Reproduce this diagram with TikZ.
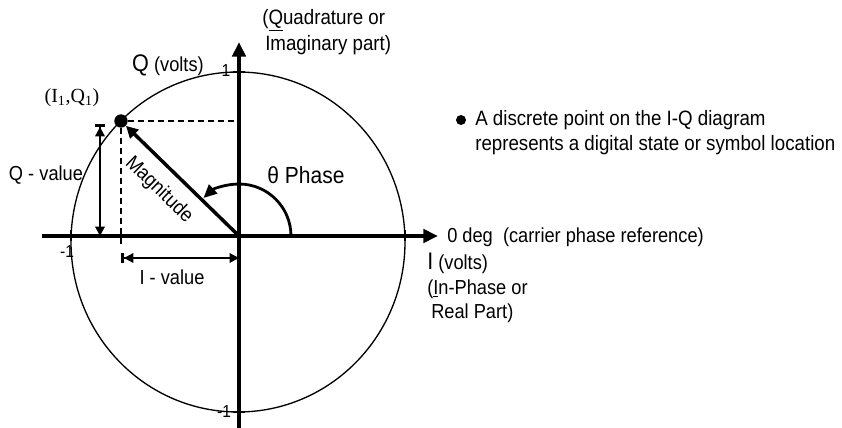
\documentclass[tikz,border=0pt]{standalone}
\usepackage{fontspec}
\setmainfont{Liberation Sans}[FakeStretch=0.9]
\newfontfamily\serifx{Liberation Serif}
\usetikzlibrary{arrows.meta}

\tikzset{
    axis/.style={line width=2.7pt, -{Triangle[length=11pt,width=10pt]}},
    unitcircle/.style={line width=1pt},
    guide/.style={line width=1.2pt, dash pattern=on 4.5pt off 3pt},
    dimarrow/.style={line width=1.5pt,
        {Bar[width=7pt,line width=2.2pt]Triangle[length=7pt,width=7pt]}-{Triangle[length=7pt,width=7pt]}},
    vecarrow/.style={line width=2.6pt, -{Triangle[length=9pt,width=9pt]}},
    phasearrow/.style={line width=2.1pt, -{Triangle[length=10pt,width=9pt]}},
    tick/.style={line width=2.2pt},
    lbl/.style={inner sep=0pt, font=\fontsize{15.2}{18}\selectfont},
    ticklbl/.style={inner sep=0pt, font=\fontsize{13}{14}\selectfont},
}

\begin{document}
\begin{tikzpicture}[x=0.75pt, y=0.75pt]

    % keep the page at the size of the reference
    \useasboundingbox (-239,-192) rectangle (603,236);

    % Origin and the symbol point
    \coordinate (O) at (0,0);
    \node (P) [circle, fill, inner sep=0pt, minimum size=10pt] at (-118,115) {};

    % Unit circle (slightly off centre, as drawn)
    \draw[unitcircle] (-1,-6) ellipse[x radius=167, y radius=170];

    % Axes
    \coordinate (Iend) at (199,0);
    \coordinate (Istart) at (-197,0);
    \coordinate (Qend) at (0,194);
    \coordinate (Qstart) at (0,-192);
    \draw[axis] (Istart) -- (Iend);
    \draw[axis] (Qstart) -- (Qend);

    % Ticks at +-1
    \draw[tick] (-6,164) -- (6,164);
    \draw[tick] (-6,-176) -- (6,-176);
    \draw[tick] (-168,-5) -- (-168,6);
    \draw[tick] (166,-5) -- (166,6);
    \node (onetop) [ticklbl] at (-13,165) {1};
    \node (oneleft) [ticklbl] at (-172,-16) {-1};
    \node (onebot) [ticklbl] at (-15,-176) {-1};

    % Projections of the point
    \coordinate (Pfoot) at (-118,-9);
    \draw[guide] (P) -- (P -| O);
    \draw[guide] (P) -- (Pfoot);

    % Q - value and I - value
    \coordinate (Qtop) at (-139,112);
    \coordinate (Qbot) at (-139,0);
    \draw[dimarrow] (Qtop) -- (Qbot);
    \coordinate (Ileft) at (-118,-22);
    \coordinate (Iright) at (0,-22);
    \draw[dimarrow] (Ileft) -- (Iright);

    % Magnitude and phase
    \draw[vecarrow] (O) -- (P);
    \draw[phasearrow] ([shift={(52,0)}]O) arc[start angle=0, end angle=133, radius=52];

    % Labels round the diagram
    \node (qlbl) [lbl] at (-71,171) {{\fontsize{18}{20}\selectfont Q} (volts)};
    \node (quad) [lbl, anchor=west, font=\fontsize{15.6}{18}\selectfont] at (23,216) {(\underline{Q}uadrature or};
    \node (imag) [lbl, anchor=west, font=\fontsize{15.6}{18}\selectfont] at (26,191) {Imaginary part)};
    \node (ptlbl) [lbl, font=\serifx\fontsize{15}{18}\selectfont] at (-167,138) {(I\textsubscript{1},Q\textsubscript{1})};
    \node (qval) [lbl] at (-193,61) {Q - value};
    \node (ival) [lbl] at (-67,-41) {I - value};
    \node (maglbl) [lbl, rotate=-44] at (-80,46) {Magnitude};
    \node (phlbl) [lbl, font=\fontsize{17.5}{20}\selectfont] at (67,61) {θ Phase};
    \node (zerodeg) [lbl, anchor=west] at (208,-1) {0 deg\ \ (carrier phase reference)};
    \node (ilbl) [lbl, anchor=west] at (188,-27) {{\fontsize{18}{20}\selectfont I} (volts)};
    \node (inph) [lbl, anchor=west] at (188,-53) {(\underline{I}n-Phase or};
    \node (realp) [lbl, anchor=west] at (192,-77) {Real Part)};

    % Note on the right
    \node (bullet) [circle, fill, inner sep=0pt, minimum size=7.5pt] at (222,116) {};
    \node (note1) [lbl, anchor=west, font=\fontsize{15.6}{18}\selectfont] at (236,116) {A discrete point on the I-Q diagram};
    \node (note2) [lbl, anchor=west, font=\fontsize{15.6}{18}\selectfont] at (236,91) {represents a digital state or symbol location};

\end{tikzpicture}
\end{document}
